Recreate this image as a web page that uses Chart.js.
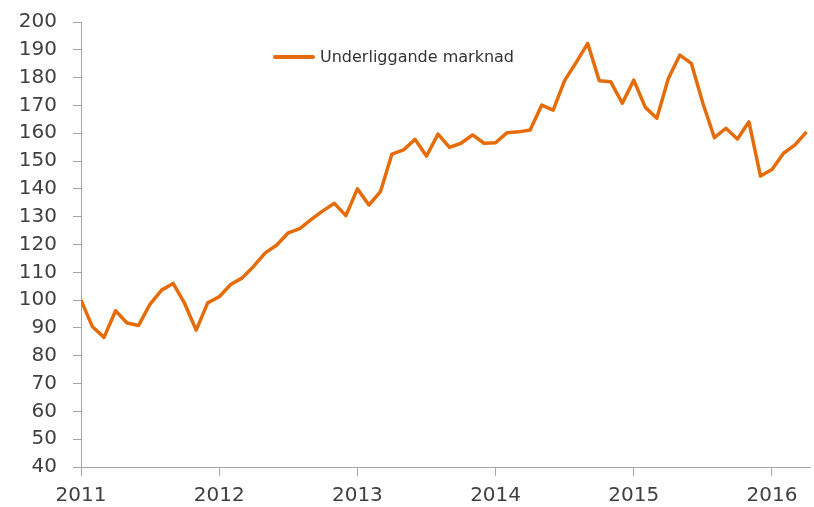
<!DOCTYPE html>
<html>
<head>
<meta charset="utf-8">
<script src="https://cdn.jsdelivr.net/npm/chart.js@4"></script>
<style>
  html, body { margin: 0; padding: 0; background: #fff; }
  #wrap { position: relative; width: 814px; height: 507px; }
  #legend {
    position: absolute; left: 273px; top: 47px;
    font-family: "DejaVu Sans", sans-serif; font-size: 16px; color: #333;
    display: flex; align-items: center; white-space: nowrap;
  }
  #legend .swatch { display: inline-block; width: 42px; height: 4px; background: #E46C0A; margin-right: 5px; border-radius: 2px; }
</style>
</head>
<body>
<div id="wrap">
  <canvas id="line-chart" width="814" height="507"></canvas>
  <div id="legend"><span class="swatch"></span><span>Underliggande marknad</span></div>
</div>
<script>
const seriesName = "Underliggande marknad";
const yearLabels = ["2011", "2012", "2013", "2014", "2015", "2016"];
// monthly values, Jan 2011 .. Apr 2016
const values = [
  100, 90.4, 86.6, 96.2, 91.8, 90.9, 98.6, 103.6, 106, 98.8, 89.2, 99,
  101.2, 105.6, 108, 112.2, 117, 119.8, 124.2, 125.7, 129, 132.1, 134.8, 130.4,
  140, 134.2, 139, 152.5, 154, 157.8, 151.8, 159.7, 154.9, 156.4, 159.4, 156.4,
  156.6, 160.2, 160.5, 161.2, 170.1, 168.3, 179, 185.5, 192.3, 178.9, 178.5, 170.8,
  179.1, 169.3, 165.4, 179.7, 188.1, 185.1, 170.8, 158.4, 161.8, 157.9, 164.1, 144.6,
  147, 152.8, 155.8, 160.5
];

const orange = "#E46C0A";
const axisGrey = "#a6a6a6";
const textColor = "#404040";

const points = values.map((v, i) => ({ x: i, y: v }));

const config = {
  type: "line",
  data: {
    datasets: [
      {
        label: seriesName,
        data: points,
        borderColor: orange,
        backgroundColor: orange,
        borderWidth: 3.5,
        pointRadius: 0,
        tension: 0,
        borderJoinStyle: "round",
      },
    ],
  },
  options: {
    responsive: false,
    animation: false,
    layout: { padding: { top: 22, right: 4, left: 0, bottom: 0 } },
    plugins: {
      legend: { display: false },
      tooltip: { enabled: false },
    },
    scales: {
      x: {
        type: "linear",
        min: 0,
        max: 63.3,
        afterFit: (s) => { s.height = 40; s.paddingLeft = 0; s.paddingRight = 0; },
        border: { color: axisGrey, width: 1 },
        grid: { drawOnChartArea: false, color: axisGrey, tickLength: 9 },
        ticks: {
          stepSize: 12,
          includeBounds: false,
          autoSkip: false,
          maxRotation: 0,
          padding: 8,
          color: textColor,
          font: { family: "DejaVu Sans", size: 20 },
          callback: (v) => yearLabels[v / 12] ?? "",
        },
      },
      y: {
        min: 40,
        max: 200,
        afterFit: (s) => { s.width = 81; s.paddingTop = 0; s.paddingBottom = 0; },
        border: { color: axisGrey, width: 1 },
        grid: { drawOnChartArea: false, color: axisGrey, tickLength: 8 },
        ticks: {
          stepSize: 10,
          padding: 16,
          color: textColor,
          font: { family: "DejaVu Sans", size: 20 },
        },
      },
    },
  },
};

var ctx = document.getElementById("line-chart").getContext("2d");
var myChart = new Chart(ctx, config);
</script>
</body>
</html>
